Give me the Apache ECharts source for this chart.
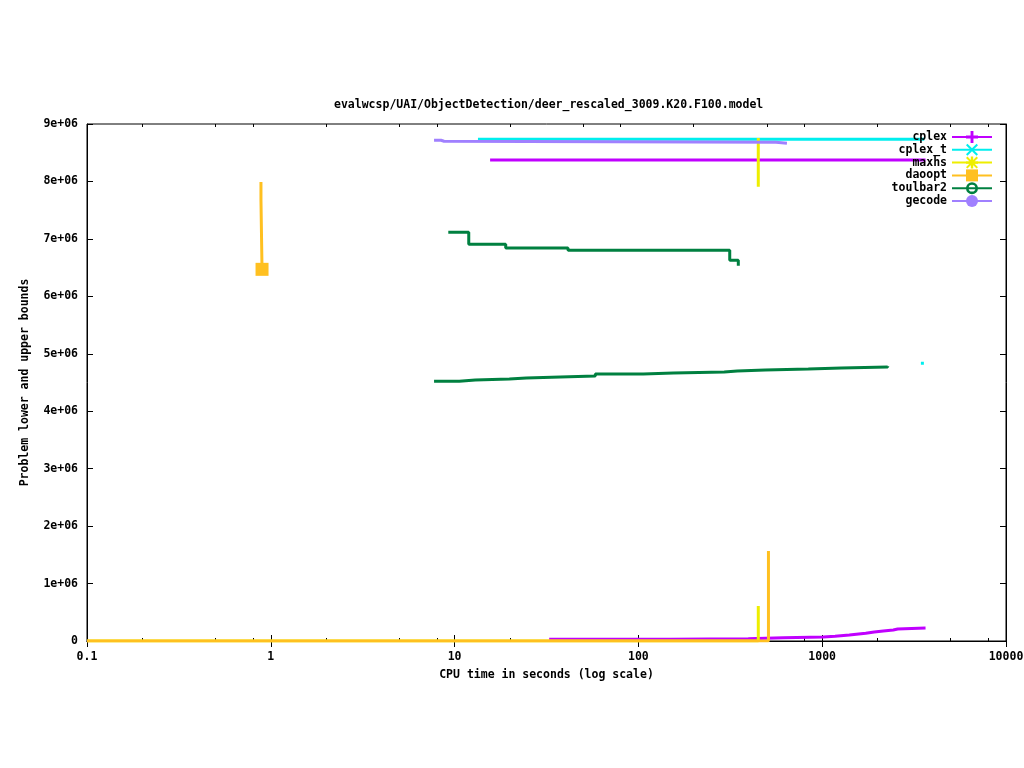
<!DOCTYPE html>
<html>
<head>
<meta charset="utf-8">
<script src="https://cdn.jsdelivr.net/npm/echarts@6/dist/echarts.min.js"></script>
<style>html,body{margin:0;padding:0;background:#fff;overflow:hidden}#c{width:1024px;height:768px}</style>
</head>
<body>
<div id="c"></div>
<script>
// ---- texts ----
const titleText = 'evalwcsp/UAI/ObjectDetection/deer_rescaled_3009.K20.F100.model';
const xAxisTitle = 'CPU time in seconds (log scale)';
const yAxisTitle = 'Problem lower and upper bounds';
const solverNames = ['cplex', 'cplex_t', 'maxhs', 'daoopt', 'toulbar2', 'gecode'];

// ---- ticks ----
const xMin = 0.1, xMax = 10000;
const xMinorTicks = [0.2, 0.5, 0.8, 2, 5, 8, 20, 50, 80, 200, 500, 800, 2000, 5000, 8000];
const yMin = 0, yMax = 9e6, yStep = 1e6;

// ---- data: [CPU time (s), bound] ----
const cplexUpper = [[15.6, 8.374e6], [3650, 8.374e6]];
const cplexLower = [[32.7, 3.0e4], [150, 4.0e4], [396, 5.7e4], [614, 7.0e4], [1014, 8.2e4], [1174, 1.04e5],
  [1404, 1.34e5], [1725, 1.57e5], [1920, 1.74e5], [2150, 1.91e5], [2437, 2.09e5], [2575, 2.26e5], [3650, 2.26e5]];
const cplexTUpper = [[13.4, 8.734e6], [3590, 8.734e6]];
const cplexTLower = [[3508, 4.835e6]];
const maxhsUpper = [[449, 8.757e6], [449, 7.909e6]];
const maxhsLower = [[0.1, 0], [449, 0], [449, 6.09e5]];
const daooptUpper = [[0.884, 7.99e6], [0.884, 7.68e6], [0.896, 6.47e6]];
const daooptLower = [[0.1, 0], [510, 0], [510, 1.567e6]];
const toulbar2Upper = [[9.24, 7.115e6], [11.94, 6.906e6], [18.97, 6.842e6], [41.4, 6.802e6], [314, 6.628e6], [349.6, 6.534e6]];
const toulbar2Lower = [[7.73, 4.521e6], [10.6, 4.544e6], [12.96, 4.561e6], [19.85, 4.579e6], [24.55, 4.596e6],
  [37.6, 4.613e6], [58.3, 4.648e6], [106.3, 4.666e6], [154.9, 4.683e6], [293, 4.701e6], [345, 4.718e6],
  [490, 4.735e6], [840, 4.753e6], [1271, 4.770e6], [2271, 4.785e6]];
const gecodeUpper = [[7.73, 8.717e6], [8.43, 8.700e6], [8.76, 8.682e6], [561, 8.665e6], [643, 8.665e6]];

// ---- styles ----
const colors = {
  cplex: '#c000ff', cplex_t: '#00eeee', maxhs: '#eeee00',
  daoopt: '#ffc020', toulbar2: '#008040', gecode: '#a080ff'
};
const symbols = {
  cplex: 'path://M3.8,0H6.2V3.8H10V6.2H6.2V10H3.8V6.2H0V3.8H3.8Z',
  cplex_t: 'path://M1.2,0L5,3.8L8.8,0L10,1.2L6.2,5L10,8.8L8.8,10L5,6.2L1.2,10L0,8.8L3.8,5L0,1.2Z',
  maxhs: 'path://M4,0H6V4H10V6H6V10H4V6H0V4H4Z M1.2,0L5,3.8L8.8,0L10,1.2L6.2,5L10,8.8L8.8,10L5,6.2L1.2,10L0,8.8L3.8,5L0,1.2Z',
  daoopt: 'rect',
  toulbar2: 'path://M10,5A5,5,0,1,1,0,5A5,5,0,1,1,10,5Z M7.8,5A2.8,2.8,0,1,0,2.2,5A2.8,2.8,0,1,0,7.8,5Z',
  gecode: 'circle'
};
const FONT = '"DejaVu Sans Mono", "Liberation Mono", monospace';
const txt = { fontFamily: FONT, fontSize: 11.5, fontWeight: 'bold', color: '#000' };

function line(name, data, extra) {
  return Object.assign({
    name: name, type: 'line', data: data, step: 'end',
    xAxisIndex: 0, yAxisIndex: 0,
    symbol: symbols[name], showSymbol: false,
    lineStyle: { color: colors[name], width: 3 },
    itemStyle: { color: colors[name] },
    emphasis: { disabled: true }, silent: true, animation: false
  }, extra || {});
}

const series = [
  line('cplex', cplexUpper),
  line('cplex', cplexLower),
  line('cplex_t', cplexTUpper),
  line('cplex_t', cplexTLower, { symbol: 'rect', showSymbol: true, symbolSize: 3 }),
  line('maxhs', maxhsUpper),
  line('maxhs', maxhsLower),
  line('daoopt', daooptUpper, {
    showSymbol: true,
    symbolSize: function (v, p) { return p.dataIndex === daooptUpper.length - 1 ? 13 : 0; }
  }),
  line('daoopt', daooptLower),
  line('toulbar2', toulbar2Upper),
  line('toulbar2', toulbar2Lower),
  line('gecode', gecodeUpper)
];

function fmtX(v) { return String(+(+v).toPrecision(6)); }
function fmtY(v) { return v === 0 ? '0' : (Math.round(v / 1e6)) + 'e+06'; }

const baseX = { type: 'log', logBase: 10, min: xMin, max: xMax, splitLine: { show: false } };
const baseY = { type: 'value', min: yMin, max: yMax, interval: yStep, splitLine: { show: false } };

const option = {
  backgroundColor: '#fff',
  animation: false,
  title: {
    text: titleText, left: 329, top: 94,
    textStyle: Object.assign({}, txt)
  },
  legend: {
    data: solverNames,
    orient: 'vertical', align: 'right',
    right: 31, top: 131, padding: 0,
    itemWidth: 40, itemHeight: 15, itemGap: 0.8,
    textStyle: Object.assign({}, txt),
    selectedMode: false
  },
  grid: {
    left: 87, right: 18, top: 124, bottom: 127,
    outerBoundsMode: 'none', containLabel: false,
    show: true, borderColor: '#000', borderWidth: 1, backgroundColor: 'transparent'
  },
  xAxis: [
    Object.assign({}, baseX, {
      position: 'bottom',
      name: xAxisTitle, nameLocation: 'middle', nameGap: 28,
      nameTextStyle: Object.assign({}, txt),
      axisLine: { show: true, lineStyle: { color: '#000', width: 1 } },
      axisTick: { show: true, inside: true, length: 6, lineStyle: { color: '#000' } },
      axisLabel: Object.assign({}, txt, { margin: 10, formatter: fmtX, showMinLabel: true, showMaxLabel: true })
    }),
    Object.assign({}, baseX, {
      position: 'top',
      axisLine: { show: true, lineStyle: { color: '#000', width: 1 } },
      axisTick: { show: true, inside: true, length: 6, lineStyle: { color: '#000' } },
      axisLabel: { show: false }
    }),
    Object.assign({}, baseX, {
      position: 'bottom',
      axisLine: { show: false },
      axisTick: { show: true, inside: true, length: 3, customValues: xMinorTicks, lineStyle: { color: '#000' } },
      axisLabel: { show: false }
    }),
    Object.assign({}, baseX, {
      position: 'top',
      axisLine: { show: false },
      axisTick: { show: true, inside: true, length: 3, customValues: xMinorTicks, lineStyle: { color: '#000' } },
      axisLabel: { show: false }
    })
  ],
  yAxis: [
    Object.assign({}, baseY, {
      position: 'left',
      name: yAxisTitle, nameLocation: 'middle', nameGap: 56, nameRotate: 90,
      nameTextStyle: Object.assign({}, txt),
      axisLine: { show: true, lineStyle: { color: '#000', width: 1 } },
      axisTick: { show: true, inside: true, length: 6, lineStyle: { color: '#000' } },
      axisLabel: Object.assign({}, txt, { margin: 9, formatter: fmtY })
    }),
    Object.assign({}, baseY, {
      position: 'right',
      axisLine: { show: true, lineStyle: { color: '#000', width: 1 } },
      axisTick: { show: true, inside: true, length: 6, lineStyle: { color: '#000' } },
      axisLabel: { show: false }
    })
  ],
  series: series
};

const chart = echarts.init(document.getElementById('c'), null, { renderer: 'canvas' });
chart.setOption(option);
</script>
</body>
</html>
